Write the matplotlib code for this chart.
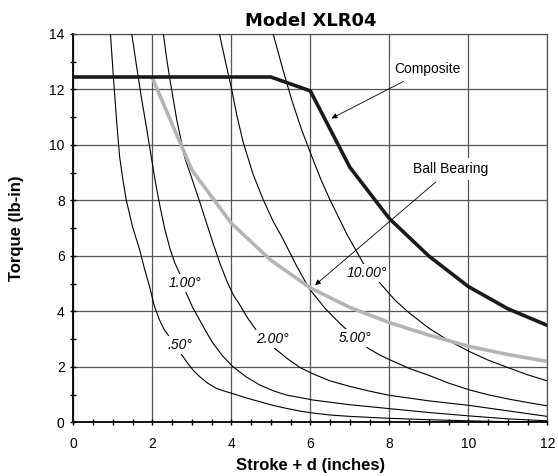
import matplotlib.pyplot as plt
from matplotlib.ticker import MultipleLocator

plt.rcParams['font.family'] = ['Liberation Sans', 'DejaVu Sans']

# torque curves for constant angular deflection
x_050 = [0.94, 1.02, 1.10, 1.17, 1.26, 1.34, 1.50, 1.68, 1.80, 1.93, 2.05, 2.18, 2.30, 2.40,
         2.73, 2.90, 3.05, 3.20, 3.40, 3.62, 3.85, 4.04, 4.37, 4.72, 5.05, 5.39, 5.74, 6.07,
         6.5, 7.0, 8.0, 9.0, 10.0, 11.0, 12.0]
t_050 = [14.0, 12.34, 10.8, 9.6, 8.7, 8.02, 7.05, 6.22, 5.55, 4.9, 4.2, 3.7, 3.35, 3.15,
         2.47, 2.12, 1.86, 1.65, 1.42, 1.23, 1.12, 1.04, 0.89, 0.75, 0.62, 0.51, 0.41, 0.34,
         0.27, 0.22, 0.15, 0.10, 0.06, 0.03, 0.01]

x_100 = [1.48, 1.60, 1.72, 1.85, 1.97, 2.08, 2.20, 2.31, 2.45, 2.57, 2.69,
         2.86, 3.02, 3.20, 3.37, 3.54, 3.78, 4.04, 4.37, 4.72, 5.05, 5.39, 5.74, 6.07,
         7.0, 8.0, 9.0, 10.0, 11.0, 12.0]
t_100 = [14.0, 12.85, 11.74, 10.65, 9.6, 8.65, 7.75, 7.0, 6.25, 5.75, 5.38,
         4.66, 4.15, 3.69, 3.25, 2.85, 2.4, 2.01, 1.65, 1.35, 1.15, 0.99, 0.9, 0.81,
         0.64, 0.5, 0.36, 0.24, 0.13, 0.06]

x_200 = [2.28, 2.36, 2.44, 2.62, 2.82, 3.0, 3.2, 3.37, 3.54, 3.72, 3.90, 4.05, 4.21, 4.42, 4.63,
         5.10, 5.42, 5.74, 6.07, 6.5, 7.0, 7.5, 8.0, 9.0, 10.0, 11.0, 12.0]
t_200 = [14.0, 13.15, 12.4, 10.9, 9.55, 8.8, 7.95, 7.2, 6.45, 5.7, 5.05, 4.6, 4.25, 3.75, 3.33,
         2.67, 2.3, 1.98, 1.75, 1.5, 1.3, 1.13, 0.98, 0.78, 0.62, 0.42, 0.22]

x_500 = [3.70, 3.86, 4.01, 4.15, 4.30, 4.55, 4.81, 5.06, 5.32, 5.65, 5.97, 6.38, 6.79,
         7.47, 7.76, 8.0, 8.5, 9.0, 9.5, 10.04, 10.5, 11.0, 11.5, 12.0]
t_500 = [14.0, 12.95, 12.0, 11.0, 10.1, 8.95, 8.02, 7.25, 6.58, 5.65, 4.83, 4.1, 3.51,
         2.67, 2.43, 2.27, 1.95, 1.7, 1.42, 1.17, 1.0, 0.85, 0.72, 0.6]

x_1000 = [5.06, 5.30, 5.53, 5.78, 6.04, 6.27, 6.50, 6.92, 7.34,
          7.81, 8.15, 8.52, 9.0, 9.5, 10.04, 10.5, 11.0, 11.5, 12.0]
t_1000 = [14.0, 12.75, 11.62, 10.55, 9.58, 8.75, 8.02, 6.8, 5.74,
          4.95, 4.4, 3.93, 3.4, 2.95, 2.55, 2.25, 1.98, 1.72, 1.5]

# bearing curves
x_ball = [2, 3, 4, 5, 6, 7, 8, 9, 10, 11, 12]
t_ball = [12.42, 9.1, 7.18, 5.85, 4.85, 4.15, 3.6, 3.15, 2.75, 2.45, 2.2]

x_comp = [0, 1, 2, 3, 4, 5, 6, 7, 8, 9, 10, 11, 12]
t_comp = [12.45, 12.45, 12.45, 12.45, 12.45, 12.45, 11.95, 9.2, 7.35, 6.0, 4.9, 4.1, 3.5]

angle_labels = ['.50°', '1.00°', '2.00°', '5.00°', '10.00°']
label_pos = [(2.71, 2.79), (2.82, 5.02), (5.03, 3.0), (7.13, 3.03), (7.43, 5.38)]

fig = plt.figure(figsize=(5.58, 4.76), dpi=100)
ax = fig.add_axes([0.1314, 0.1124, 0.8494, 0.8162])

for xs, ts in [(x_050, t_050), (x_100, t_100), (x_200, t_200), (x_500, t_500), (x_1000, t_1000)]:
    ax.plot(xs, ts, color='black', lw=0.8, zorder=3)

ax.plot(x_ball, t_ball, color='#b4b4b4', lw=2.6, zorder=4)
ax.plot(x_comp, t_comp, color='#1a1a1a', lw=2.6, zorder=5)

for lab, (lx, ly) in zip(angle_labels, label_pos):
    ax.text(lx, ly, lab, fontsize=10, style='italic', ha='center', va='center', zorder=6,
            bbox=dict(facecolor='white', edgecolor='none', pad=1.5))

ax.annotate('Composite', xy=(6.54, 10.96), xytext=(8.97, 12.74), fontsize=10,
            ha='center', va='center', zorder=7,
            bbox=dict(facecolor='white', edgecolor='none', pad=3),
            arrowprops=dict(arrowstyle='-|>', color='black', lw=0.6, mutation_scale=8, shrinkA=2, shrinkB=0))
ax.annotate('Ball Bearing', xy=(6.12, 4.95), xytext=(9.56, 9.13), fontsize=10,
            ha='center', va='center', zorder=7,
            bbox=dict(facecolor='white', edgecolor='none', pad=3),
            arrowprops=dict(arrowstyle='-|>', color='black', lw=0.6, mutation_scale=8, shrinkA=2, shrinkB=0))

ax.set_xlim(0, 12)
ax.set_ylim(0, 14)
ax.xaxis.set_major_locator(MultipleLocator(2))
ax.xaxis.set_minor_locator(MultipleLocator(0.5))
ax.yaxis.set_major_locator(MultipleLocator(2))
ax.yaxis.set_minor_locator(MultipleLocator(1))
ax.tick_params(which='both', direction='inout', length=4.5, width=1, labelsize=10)
ax.tick_params(axis='x', pad=8)
ax.tick_params(axis='y', pad=4)
ax.grid(True, which='major', color='#555555', lw=0.9, zorder=1)
for s in ['left', 'bottom']:
    ax.spines[s].set_linewidth(1.3)
for s in ['top', 'right']:
    ax.spines[s].set_color('#555555')
    ax.spines[s].set_linewidth(0.9)

ax.set_xlabel('Stroke + d (inches)', fontsize=12, fontweight='bold', labelpad=5)
ax.set_ylabel('Torque (lb-in)', fontsize=12, fontweight='bold', labelpad=18)
ax.set_title('Model XLR04', fontsize=13, fontweight='black', family='DejaVu Sans', pad=6)

fig.savefig('out.png', dpi=100)
